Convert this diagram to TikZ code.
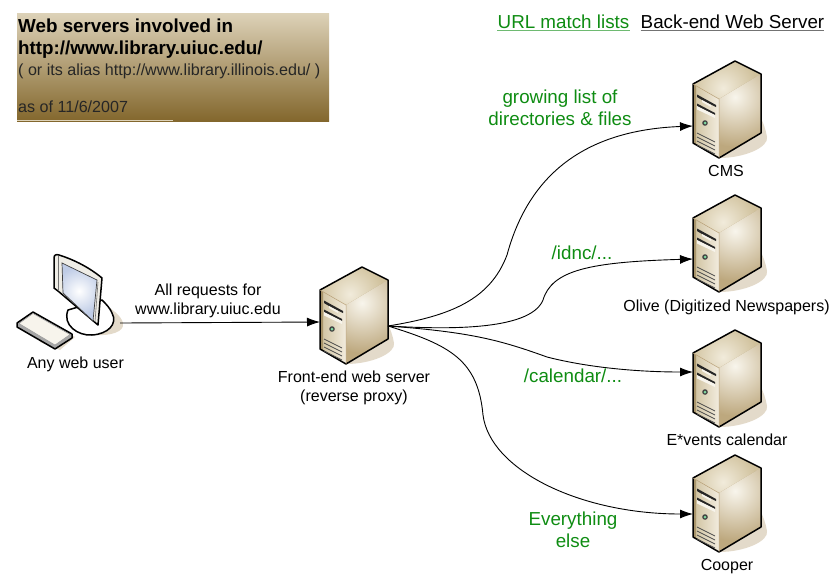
\documentclass[tikz,border=0pt]{standalone}
\usepackage{fontspec}
\setmainfont{Liberation Sans}
\usetikzlibrary{arrows.meta}
\definecolor{lblgreen}{HTML}{0E8C12}
\definecolor{shadowc}{HTML}{E3DACA}
\definecolor{tantop}{HTML}{DDD2B8}
\definecolor{tanbot}{HTML}{83672D}
\definecolor{topa}{HTML}{F1EBDB}
\definecolor{topb}{HTML}{D0C19C}
\definecolor{sidea}{HTML}{F8F5EC}
\definecolor{sideb}{HTML}{BDA87E}
\definecolor{fronta}{HTML}{F2ECDE}
\definecolor{frontb}{HTML}{CFC19E}
\definecolor{stripc}{HTML}{A8946A}
\definecolor{seamc}{HTML}{B8A078}
\definecolor{paper}{HTML}{F7F4EC}
\definecolor{ledc}{HTML}{7FD8A0}
\definecolor{screenc}{HTML}{BFCCE6}
\definecolor{bezel}{HTML}{EFEDE6}
\tikzset{
  lbl/.style={anchor=base,inner sep=0pt,font=\fontsize{16}{19}\selectfont,text=black},
  grn/.style={anchor=base,inner sep=0pt,font=\fontsize{18.8}{22}\selectfont,text=lblgreen},
  hdr/.style={anchor=base,inner sep=0pt,font=\fontsize{18.8}{22}\selectfont},
  ttl/.style={anchor=base west,inner sep=0pt,font=\fontsize{18.8}{22}\selectfont\bfseries,text=black},
  ttls/.style={anchor=base west,inner sep=0pt,font=\fontsize{16.1}{19}\selectfont,text=black!85},
  conn/.style={draw=black,line width=0.9pt,-{Latex[length=13pt,width=9pt]}},
  edge/.style={draw=black,line width=1.5pt,line join=round},
}
\newcommand{\serverat}[2]{%
\begin{scope}[shift={(#1,#2)}]
  \fill[shadowc] (346,364) .. controls (372,364) and (396,353) .. (394,343) .. controls (393,336) and (390,328) .. (387,322) -- cycle;
  \fill[topb] (320,290) -- (362,267) -- (388,280) -- (346,305) -- cycle;
  \begin{scope}
    \clip (320,290) -- (362,267) -- (388,280) -- (346,305) -- cycle;
    \shade[inner color=topa,outer color=topb] (350,294) circle (34);
  \end{scope}
  \fill[sideb] (346,305) -- (388,280) -- (388,339) -- (346,364) -- cycle;
  \begin{scope}
    \clip (346,305) -- (388,280) -- (388,339) -- (346,364) -- cycle;
    \shade[inner color=sidea,outer color=sideb] (362,303) circle (50);
  \end{scope}
  \shade[left color=frontb,right color=fronta] (320,290) -- (346,305) -- (346,364) -- (320,349) -- cycle;
  \fill[stripc] (320,290) -- (323,292) -- (323,351) -- (320,349) -- cycle;
  \draw[edge] (320,290) -- (362,267) -- (388,280) -- (388,339) -- (346,364) -- (320,349) -- cycle;
  \draw[line width=0.5pt,seamc] (320,290) -- (346,305) -- (346,364);
  \fill[black!85] (324,300.5) -- (343,311) -- (343,313) -- (336,309.5) -- (329,306) -- (324,303) -- cycle;
  \fill[paper] (329,306) -- (338,311) -- (338,313) -- (329,308) -- cycle;
  \fill[black!85] (324,309.5) -- (342,319) -- (342,321) -- (324,312) -- cycle;
  \fill[paper] (324,312) -- (342,321) -- (342,324) -- (324,315.5) -- cycle;
  \fill[black!75] (332,329) circle (2.8);
  \fill[ledc] (332,329) circle (1.5);
  \foreach \d in {0,4,8,12}
    \draw[line width=0.7pt,black!70] (324,{339+\d}) -- (342,{348+\d});
\end{scope}}
\begin{document}
\begin{tikzpicture}[x=1pt,y=-1pt]
\useasboundingbox (0,0) rectangle (830,574);
\shade[top color=tantop,bottom color=tanbot] (17,13) rectangle (329,121);
\fill[tantop] (17,120.2) rectangle (173,121);
\node[ttl] (t1) at (18,32) {Web servers involved in};
\node[ttl] (t2) at (18,54) {http://www.library.uiuc.edu/};
\node[ttls] (t3) at (18,75) {( or its alias http://www.library.illinois.edu/ )};
\node[ttls] (t4) at (18,112) {as of 11/6/2007};
\node[hdr,text=lblgreen] (url) at (563.5,28) {URL match lists};
\node[hdr,text=black] (be) at (732.5,28) {Back-end Web Server};
\draw[line width=1.4pt,color=lblgreen!60] ([yshift=-2.2pt]url.base west) -- ([yshift=-2.2pt]url.base east);
\draw[line width=1.4pt,color=black!55] ([yshift=-2.2pt]be.base west) -- ([yshift=-2.2pt]be.base east);
% computer
\fill[shadowc] (95,335) .. controls (110,336) and (125,332) .. (123,323) .. controls (121,315) and (112,310) .. (105,304) -- cycle;
\draw[edge,fill=white] (68,310) .. controls (62,325) and (78,336) .. (92,335) .. controls (108,334) and (118,324) .. (112,313) .. controls (110,308) and (106,304) .. (102,300) -- cycle;
\draw[edge,fill=bezel] (54,258) .. controls (54,255) and (56,254) .. (59,255) .. controls (75,260) and (90,268) .. (102,278) -- (98,325) -- (58,291) -- (54,288) -- cycle;
\draw[line width=0.6pt,black!55] (58,256) -- (58,291);
\draw[line width=0.6pt,black!55] (98,282) -- (95,322);
\fill[screenc] (62,263) -- (97,280) -- (93,321) -- (63,293) -- cycle;
\begin{scope}
  \clip (62,263) -- (97,280) -- (93,321) -- (63,293) -- cycle;
  \shade[inner color=white,outer color=screenc] (79,291) circle (24);
\end{scope}
\draw[line width=0.7pt,black!75] (62,263) -- (97,280) -- (93,321) -- (63,293) -- cycle;
\fill[shadowc] (36,316) -- (75,337) -- (60,350) -- (40,342) -- cycle;
\draw[edge,fill=black!35] (33,312) -- (72,334) -- (72,338) -- (55,349) -- (17,327) -- (17,323) -- cycle;
\draw[line width=0.5pt,black!40,fill=paper] (33,313.5) -- (70,334.5) -- (55,345) -- (19,323.5) -- cycle;
% servers
\serverat{0}{0}
\serverat{373}{-206}
\serverat{373}{-72}
\serverat{373}{63}
\serverat{373}{188}
% connection points
\coordinate (pc) at (120,323);
\coordinate (fin) at (320,322);
\coordinate (fout) at (388,326);
\coordinate (cms) at (693,126);
\coordinate (olive) at (693,259);
\coordinate (events) at (693,372);
\coordinate (cooper) at (693,514);
\draw[conn] (pc) -- (fin);
\draw[conn] (fout) .. controls (450,316) and (490,300) .. (507,255) .. controls (530,170) and (590,130) .. (cms);
\draw[conn] (fout) .. controls (440,329) and (530,332) .. (543,300) .. controls (552,270) and (590,262) .. (olive);
\draw[conn] (fout) .. controls (470,332) and (500,340) .. (547,357) .. controls (590,368) and (640,372) .. (events);
\draw[conn] (fout) .. controls (450,345) and (478,360) .. (483,415) .. controls (490,470) and (580,514) .. (cooper);
% labels
\node[lbl] (any) at (75.5,368) {Any web user};
\node[lbl] (req1) at (208,295) {All requests for};
\node[lbl] (req2) at (208,314) {www.library.uiuc.edu};
\node[lbl] (f1) at (354,382) {Front-end web server};
\node[lbl] (f2) at (354,401) {(reverse proxy)};
\node[lbl] (lcms) at (726,176) {CMS};
\node[lbl] (lolive) at (726.5,311) {Olive (Digitized Newspapers)};
\node[lbl] (levents) at (727,445) {E*vents calendar};
\node[lbl] (lcooper) at (727,570) {Cooper};
\node[grn] (g1) at (560,103) {growing list of};
\node[grn] (g2) at (560,125) {directories \& files};
\node[grn] (g3) at (582,259) {/idnc/...};
\node[grn] (g4) at (573,382) {/calendar/...};
\node[grn] (g5) at (573,525) {Everything};
\node[grn] (g6) at (573,547) {else};
\end{tikzpicture}
\end{document}
